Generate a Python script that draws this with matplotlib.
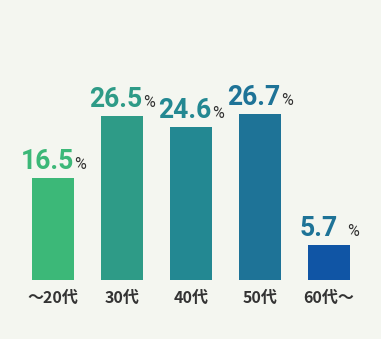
import matplotlib
matplotlib.use("Agg")
from matplotlib import pyplot as plt
from matplotlib.offsetbox import TextArea, HPacker, AnnotationBbox

# data
ages = ['〜20代', '30代', '40代', '50代', '60代〜']
shares = [16.5, 26.5, 24.6, 26.7, 5.7]
bar_colors = ['#3cb878', '#2e9b87', '#238892', '#1e7397', '#1055a5']
label_colors = ['#3cb878', '#2e9b87', '#238892', '#1e7397', '#1e7397']
pct_gaps = [0, 1, 0, 1, 9]

bg = '#f4f6f0'
dark = '#333333'

# dpi 72 -> 1pt == 1px
fig = plt.figure(figsize=(381 / 72, 339 / 72), dpi=72, facecolor=bg)
ax = fig.add_axes([18.5 / 381, 59 / 339, 345 / 381, 280 / 339])
ax.set_facecolor(bg)

x = range(len(ages))
ax.bar(x, shares, width=42 / 69, color=bar_colors)
ax.set_xlim(-0.5, len(ages) - 0.5)
ax.set_ylim(0, 280 / 6.2)

for s in ax.spines.values():
    s.set_visible(False)
ax.set_yticks([])
ax.set_xticks(list(x))
ax.set_xticklabels(ages, family=['Noto Sans CJK JP', 'DejaVu Sans'],
                   fontweight='bold', fontsize=16, color=dark)
ax.tick_params(axis='x', length=0, pad=10)

# value labels: big coloured number + small dark %
for i, (v, c, g) in enumerate(zip(shares, label_colors, pct_gaps)):
    num = TextArea(f'{v:.1f}', textprops=dict(family='Roboto', fontweight='bold',
                                               fontsize=26.5, color=c))
    pct = TextArea('%', textprops=dict(family='Roboto', fontweight='normal',
                                        fontsize=16, color=dark))
    box = HPacker(children=[num, pct], align='baseline', pad=0, sep=g)
    ab = AnnotationBbox(box, (i, v), xybox=(0, 3), xycoords='data',
                        boxcoords='offset points', box_alignment=(0.5, 0),
                        frameon=False, pad=0)
    ax.add_artist(ab)

fig.savefig('out.png', dpi=72, facecolor=bg)
